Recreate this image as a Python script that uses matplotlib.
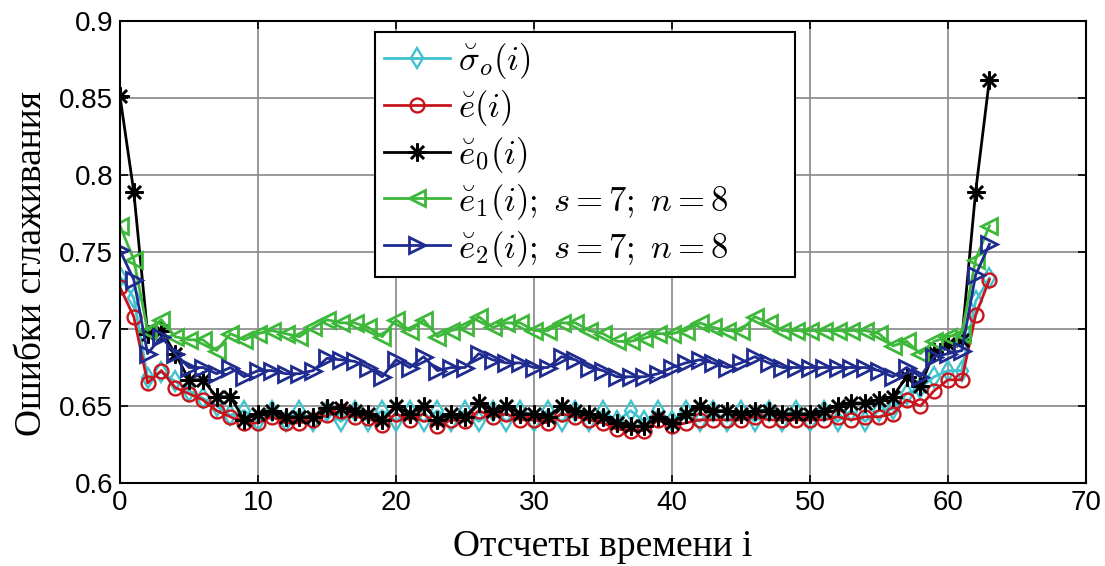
import numpy as np
import matplotlib
matplotlib.use('Agg')
import matplotlib.pyplot as plt

plt.rcParams['mathtext.fontset'] = 'cm'
plt.rcParams['font.family'] = ['Liberation Sans', 'DejaVu Sans']

# отсчеты времени
i = np.arange(64)

sigma_o = [0.734, 0.720, 0.668, 0.672, 0.666, 0.660, 0.655, 0.650, 0.644, 0.647,
           0.640, 0.647, 0.640, 0.647, 0.640, 0.647, 0.640, 0.647, 0.640, 0.647,
           0.640, 0.647, 0.640, 0.647, 0.640, 0.647, 0.640, 0.647, 0.640, 0.647,
           0.640, 0.647, 0.640, 0.647, 0.640, 0.647, 0.640, 0.647, 0.640, 0.647,
           0.640, 0.647, 0.640, 0.647, 0.640, 0.647, 0.640, 0.647, 0.640, 0.647,
           0.640, 0.647, 0.640, 0.647, 0.640, 0.647, 0.648, 0.658, 0.662, 0.669,
           0.673, 0.673, 0.718, 0.733]

e = [0.727, 0.708, 0.665, 0.673, 0.662, 0.658, 0.654, 0.647, 0.643, 0.639,
     0.639, 0.643, 0.639, 0.639, 0.641, 0.644, 0.647, 0.643, 0.642, 0.638,
     0.645, 0.641, 0.645, 0.637, 0.641, 0.640, 0.647, 0.643, 0.645, 0.641,
     0.641, 0.639, 0.645, 0.643, 0.641, 0.639, 0.635, 0.634, 0.634, 0.641,
     0.637, 0.639, 0.641, 0.641, 0.641, 0.641, 0.643, 0.641, 0.641, 0.641,
     0.641, 0.641, 0.643, 0.641, 0.643, 0.643, 0.645, 0.654, 0.650, 0.660,
     0.667, 0.667, 0.709, 0.732]

e0 = [0.851, 0.789, 0.697, 0.699, 0.684, 0.667, 0.667, 0.656, 0.656, 0.641,
      0.645, 0.647, 0.643, 0.643, 0.643, 0.649, 0.649, 0.647, 0.645, 0.641,
      0.650, 0.645, 0.650, 0.641, 0.645, 0.643, 0.652, 0.647, 0.650, 0.645,
      0.645, 0.643, 0.650, 0.647, 0.645, 0.643, 0.639, 0.637, 0.637, 0.643,
      0.639, 0.645, 0.650, 0.647, 0.647, 0.645, 0.647, 0.647, 0.645, 0.645,
      0.645, 0.647, 0.650, 0.652, 0.652, 0.654, 0.656, 0.669, 0.663, 0.685,
      0.690, 0.693, 0.789, 0.862]

e1 = [0.767, 0.745, 0.699, 0.706, 0.695, 0.693, 0.693, 0.686, 0.697, 0.693,
      0.697, 0.699, 0.697, 0.695, 0.701, 0.706, 0.704, 0.704, 0.701, 0.695,
      0.706, 0.699, 0.706, 0.695, 0.699, 0.701, 0.708, 0.701, 0.704, 0.704,
      0.699, 0.699, 0.704, 0.704, 0.699, 0.697, 0.692, 0.692, 0.694, 0.697,
      0.697, 0.699, 0.704, 0.701, 0.699, 0.699, 0.708, 0.704, 0.699, 0.699,
      0.699, 0.699, 0.699, 0.699, 0.699, 0.697, 0.689, 0.692, 0.684, 0.692,
      0.695, 0.697, 0.745, 0.767]

e2 = [0.751, 0.732, 0.684, 0.695, 0.684, 0.675, 0.675, 0.671, 0.675, 0.669,
      0.673, 0.673, 0.671, 0.671, 0.673, 0.681, 0.680, 0.679, 0.675, 0.669,
      0.680, 0.675, 0.682, 0.673, 0.675, 0.675, 0.684, 0.680, 0.678, 0.678,
      0.675, 0.675, 0.682, 0.680, 0.675, 0.673, 0.669, 0.669, 0.669, 0.671,
      0.675, 0.678, 0.680, 0.678, 0.675, 0.678, 0.682, 0.678, 0.675, 0.675,
      0.675, 0.675, 0.675, 0.675, 0.675, 0.673, 0.669, 0.675, 0.669, 0.682,
      0.684, 0.686, 0.735, 0.755]

labels = [r'$\breve{\sigma}_o(i)$', r'$\breve{e}(i)$', r'$\breve{e}_0(i)$',
          r'$\breve{e}_1(i);\;s=7;\;n=8$', r'$\breve{e}_2(i);\;s=7;\;n=8$']

fig = plt.figure(figsize=(11.05, 5.66), dpi=100)
ax = fig.add_axes([0.1086, 0.1466, 0.8742, 0.8163])

lw = 2
ax.plot(i, sigma_o, '-', color='#3fc3cf', lw=lw, marker='d', ms=10, mfc='none', mew=1.7, label=labels[0])
ax.plot(i, e, '-', color='#c8141c', lw=lw, marker='o', ms=10, mfc='none', mew=1.7, label=labels[1])
ax.plot(i, e0, '-', color='black', lw=lw, marker=(8, 2, 0), ms=13, mew=1.8, label=labels[2])
ax.plot(i, e1, '-', color='#3db83a', lw=lw, marker='<', ms=12, mfc='none', mew=2, label=labels[3])
ax.plot(i, e2, '-', color='#1f2b8f', lw=lw, marker='>', ms=12, mfc='none', mew=2, label=labels[4])

ax.set_xlim(0, 70)
ax.set_ylim(0.6, 0.9)
ax.set_xticks(np.arange(0, 71, 10))
ax.set_yticks([0.6, 0.65, 0.7, 0.75, 0.8, 0.85, 0.9])
ax.set_yticklabels(['0.6', '0.65', '0.7', '0.75', '0.8', '0.85', '0.9'])
ax.tick_params(direction='in', labelsize=20, length=6, width=1.2, top=True, right=True, pad=5)
ax.grid(True, color='#888888', lw=1.2)
for s in ax.spines.values():
    s.set_linewidth(1.5)

ax.set_xlabel('Отсчеты времени i', family=['Liberation Serif', 'DejaVu Serif'], fontsize=27, labelpad=10)
ax.set_ylabel('Ошибки сглаживания', family=['Liberation Serif', 'DejaVu Serif'], fontsize=27)
ax.yaxis.set_label_coords(-0.073, 0.475)

leg = ax.legend(loc='upper left', bbox_to_anchor=(0.264, 0.976, 0.435, 0), mode='expand',
                fontsize=25, fancybox=False, framealpha=1, edgecolor='black',
                handlelength=1.9, handletextpad=0.25, labelspacing=0.2,
                borderpad=0.25, borderaxespad=0)
leg.get_frame().set_linewidth(1.5)

fig.savefig('out.png', dpi=100)
